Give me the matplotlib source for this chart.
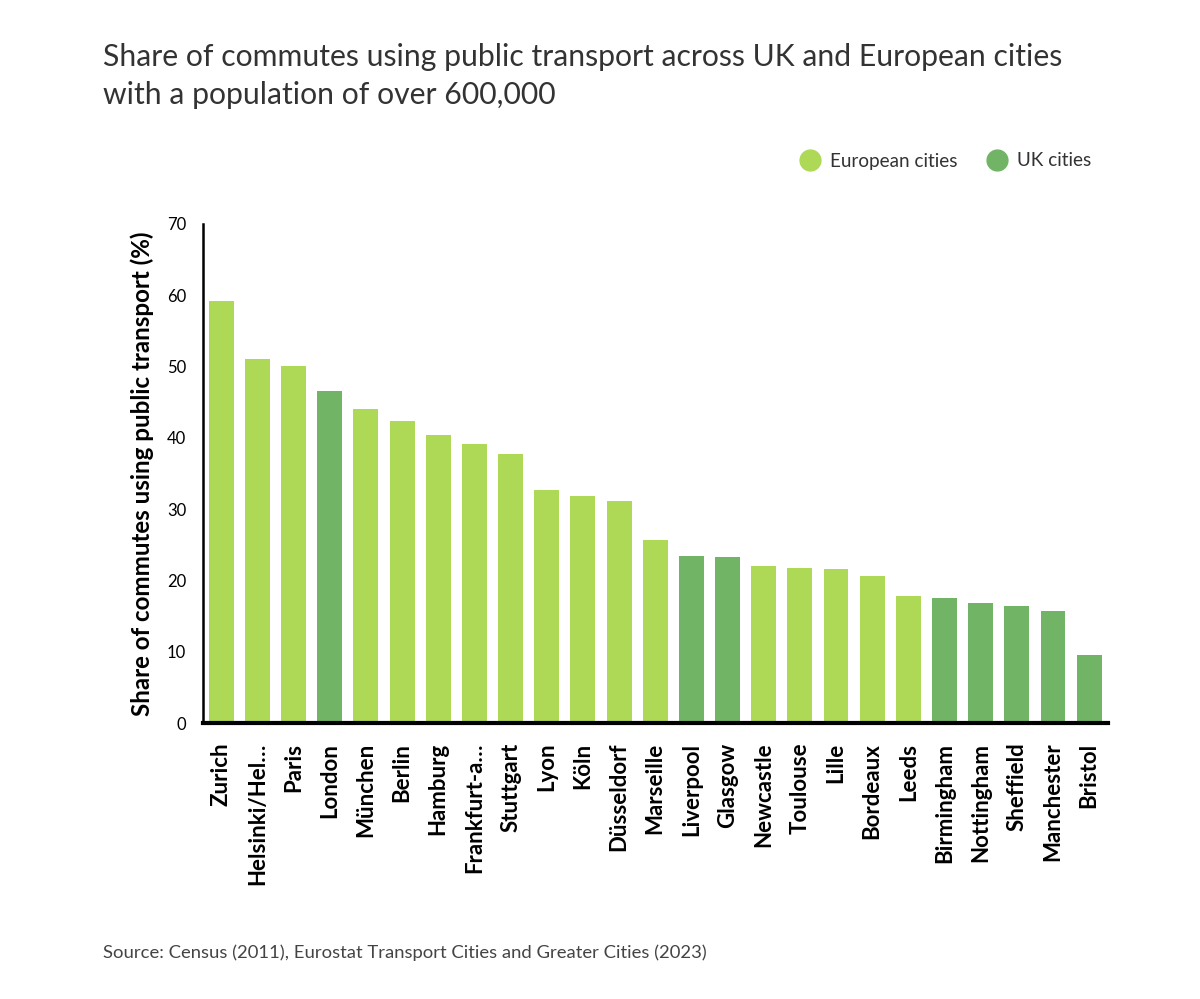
import matplotlib.pyplot as plt
import numpy as np

# data
cities = ["Zurich", "Helsinki/Hel…", "Paris", "London", "München", "Berlin",
          "Hamburg", "Frankfurt-a…", "Stuttgart", "Lyon", "Köln", "Düsseldorf",
          "Marseille", "Liverpool", "Glasgow", "Newcastle", "Toulouse", "Lille",
          "Bordeaux", "Leeds", "Birmingham", "Nottingham", "Sheffield",
          "Manchester", "Bristol"]
share = [59.2, 51.0, 50.0, 46.5, 44.0, 42.4, 40.4, 39.1, 37.7, 32.7, 31.8, 31.1,
         25.7, 23.5, 23.3, 22.0, 21.8, 21.6, 20.7, 17.9, 17.5, 16.8, 16.4,
         15.7, 9.6]
is_uk = [False, False, False, True, False, False, False, False, False, False,
         False, False, False, True, True, False, False, False, False, False,
         True, True, True, True, True]

eu_color = "#AED957"
uk_color = "#72B466"

plt.rcParams['font.family'] = ['Lato', 'DejaVu Sans']

fig = plt.figure(figsize=(12, 9.99), dpi=100)
ax = fig.add_axes([0.169, 0.276, 0.754, 0.500])

x = np.arange(len(cities))
colors = [uk_color if u else eu_color for u in is_uk]
ax.bar(x, share, width=0.69, color=colors)

ax.set_xlim(-0.51, len(cities) - 0.49)
ax.set_ylim(0, 70)
ax.set_yticks(range(0, 71, 10))
ax.set_xticks(x)
ax.set_xticklabels(cities, rotation=90, fontsize=16, fontweight='bold')
ax.tick_params(axis='both', length=0)
ax.tick_params(axis='y', labelsize=12, pad=12)
ax.tick_params(axis='x', pad=14)

for s in ['top', 'right']:
    ax.spines[s].set_visible(False)
ax.spines['left'].set_linewidth(1.8)
ax.spines['bottom'].set_linewidth(3)

ax.set_ylabel("Share of commutes using public transport (%)", fontsize=17.4,
              fontweight='bold', labelpad=9)

# title and source
fig.text(103 / 1200, 1 - 57 / 999, "Share of commutes using public transport across UK and European cities",
         fontsize=21.7, color="#333333", va='center', ha='left')
fig.text(103 / 1200, 1 - 95 / 999, "with a population of over 600,000",
         fontsize=21.7, color="#333333", va='center', ha='left')
fig.text(103 / 1200, 1 - 953 / 999, "Source: Census (2011), Eurostat Transport Cities and Greater Cities (2023)",
         fontsize=13.3, color="#444444", va='center', ha='left')

# legend with round markers
handles = [plt.Line2D([], [], marker='o', linestyle='', markersize=15, color=eu_color),
           plt.Line2D([], [], marker='o', linestyle='', markersize=15, color=uk_color)]
fig.legend(handles, ["European cities", "UK cities"], loc='center right',
           bbox_to_anchor=(1108 / 1200, 1 - 161 / 999), ncol=2, frameon=False,
           fontsize=13.6, handletextpad=0.05, columnspacing=1.1, labelcolor="#333333")

fig.savefig("out.png", dpi=100)
